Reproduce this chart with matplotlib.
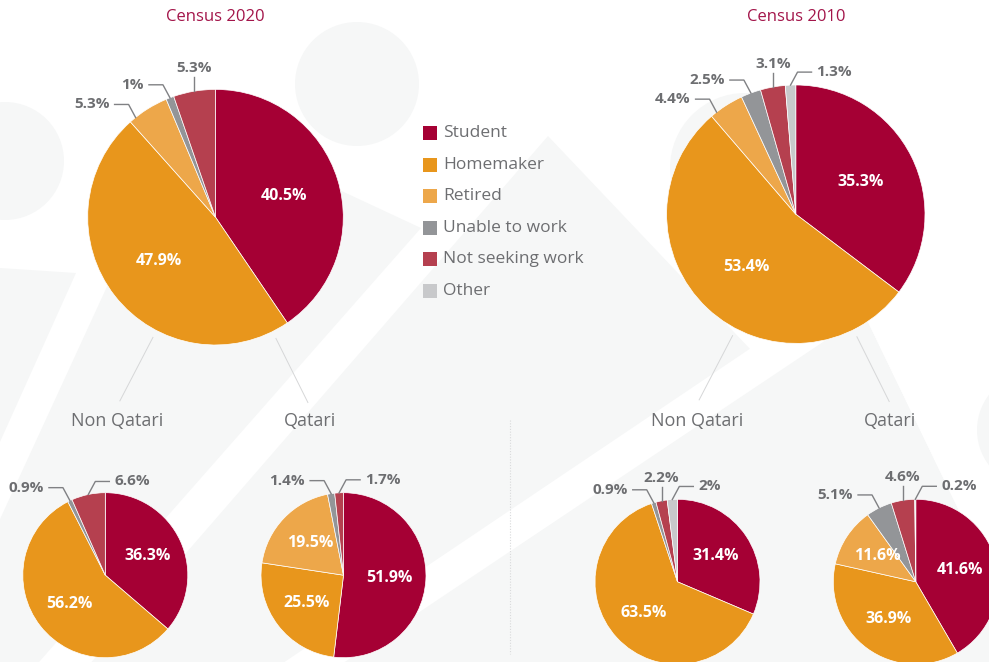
import numpy as np
import matplotlib.pyplot as plt
from matplotlib.patches import Polygon, Circle, Rectangle

plt.rcParams['font.family'] = ['Open Sans', 'DejaVu Sans']

# data
categories = ['Student', 'Homemaker', 'Retired', 'Unable to work', 'Not seeking work', 'Other']
census_2020_total = [40.5, 47.9, 5.3, 1.0, 5.3, 0.0]
census_2020_non_qatari = [36.3, 56.2, 0.0, 0.9, 6.6, 0.0]
census_2020_qatari = [51.9, 25.5, 19.5, 1.4, 1.7, 0.0]
census_2010_total = [35.3, 53.4, 4.4, 2.5, 3.1, 1.3]
census_2010_non_qatari = [31.4, 63.5, 0.0, 0.9, 2.2, 2.0]
census_2010_qatari = [41.6, 36.9, 11.6, 5.1, 4.6, 0.2]

colors = ['#a50034', '#e8961c', '#eda74a', '#939598', '#b5404f', '#c8c9cb']
GRAY_TXT = '#6d6e71'
BG = '#f6f7f7'
W, H = 989, 662

fig = plt.figure(figsize=(W / 100, H / 100), dpi=100)
ax = fig.add_axes([0, 0, 1, 1])
ax.set_facecolor('white')


# background decoration (pixel coords, y down)
def poly(pts, color):
    ax.add_patch(Polygon(pts, closed=True, facecolor=color, edgecolor='none', zorder=0))


def edge_x(x0, y0, slope, y):
    return x0 - slope * (y - y0)


poly([(0, 268), (76, 273), (edge_x(76, 273, 0.45, 662), 662), (0, 662)], BG)
poly([(110, 280), (200, 230), (333, 187), (421, 228), (edge_x(421, 228, 0.88, 662), 662),
      (edge_x(110, 280, 0.46, 662), 662)], BG)
poly([(548, 136), (edge_x(548, 136, 0.868, 662), 662), (1047, 662)], BG)
poly([(840, 320), (edge_x(823, 342, 1 / 0.669, 662), 662), (1032, 662), (867, 320)], BG)
# white stripes
poly([(edge_x(760, 342, 1 / 0.673, 0), 0), (edge_x(823, 342, 1 / 0.669, 0), 0),
      (edge_x(823, 342, 1 / 0.669, 662), 662), (edge_x(760, 342, 1 / 0.673, 662), 662)], 'white')
poly([(867, 320), (1032, 662), (989, 662), (989, 320)], 'white')
for c, r in [((5, 161), 59), ((357, 84), 62), ((745, 168), 75), ((1035, 430), 58)]:
    ax.add_patch(Circle(c, r, facecolor=BG, edgecolor='none', zorder=0.5))

# pies: (data, center, radius, outside label specs {index: (kind, frac)})
pies = [
    (census_2020_total, (215.5, 217.2), 127.8, {2: ('left', 0.16), 3: ('left', 0.5), 4: ('up', 0.5)}),
    (census_2010_total, (795.8, 214.2), 129.2,
     {2: ('left', 0.18), 3: ('left', 0.5), 4: ('up', 0.5), 5: ('right', 0.5)}),
    (census_2020_non_qatari, (105.3, 575.2), 82.5, {3: ('left', 0.5), 4: ('right', 0.5)}),
    (census_2020_qatari, (343.5, 575.2), 82.5, {3: ('left', 0.5), 4: ('right', 0.5)}),
    (census_2010_non_qatari, (677.5, 581.8), 82.5, {3: ('left', 0.5), 4: ('up', 0.5), 5: ('right', 0.5)}),
    (census_2010_qatari, (915.8, 581.8), 82.5, {3: ('left', 0.5), 4: ('up', 0.5), 5: ('right', 0.5)}),
]


def fmt(v):
    return f'{v:g}%'


for vals, center, radius, outside in pies:
    idx = [i for i, v in enumerate(vals) if v > 0]
    wedges, _ = ax.pie([vals[i] for i in idx], colors=[colors[i] for i in idx],
                       center=center, radius=radius, startangle=-90, counterclock=True,
                       wedgeprops=dict(edgecolor='white', linewidth=0.5))
    for w in wedges:
        w.set_zorder(2)
    cx, cy = center
    for i, w in zip(idx, wedges):
        t1, t2 = w.theta1, w.theta2
        if i in outside:
            kind, frac = outside[i]
            a = np.deg2rad(t1 + frac * (t2 - t1))
            ex, ey = cx + radius * np.cos(a), cy + radius * np.sin(a)
            if kind == 'up':
                ax.plot([ex, ex], [ey, ey - 14], color='#808184', lw=1.0, zorder=3)
                ax.text(ex, ey - 16, fmt(vals[i]), ha='center', va='bottom', fontsize=11,
                        fontweight='bold', color=GRAY_TXT, zorder=4)
            else:
                s = -1 if kind == 'left' else 1
                bx, by = ex + s * 7, ey - 13
                hx = bx + s * 14
                ax.plot([ex, bx, hx], [ey, by, by], color='#808184', lw=1.0, zorder=3)
                ax.text(hx + s * 5, by, fmt(vals[i]), ha='right' if s < 0 else 'left', va='center',
                        fontsize=11, fontweight='bold', color=GRAY_TXT, zorder=4)
        elif vals[i] >= 10:
            a = np.deg2rad((t1 + t2) / 2)
            ax.text(cx + 0.56 * radius * np.cos(a), cy + 0.56 * radius * np.sin(a), fmt(vals[i]),
                    ha='center', va='center', fontsize=11.5, fontweight='bold', color='white', zorder=4)

# titles and group labels
for (cx, cy), r, title in [((215.5, 217.2), 127.8, 'Census 2020'), ((795.8, 214.2), 129.2, 'Census 2010')]:
    ax.text(cx, 17, title, ha='center', va='center', fontsize=12, color='#a3154a')
    for ang, name, dx in [(242.5, 'Non Qatari', -98.5), (296.5, 'Qatari', 94.5)]:
        a = np.deg2rad(ang)
        ax.plot([cx + 1.06 * r * np.cos(a), cx + 1.62 * r * np.cos(a)],
                [cy - 1.06 * r * np.sin(a), cy - 1.62 * r * np.sin(a)],
                color='#d6d7d8', lw=0.7, zorder=1)
        ax.text(cx + dx, 421, name, ha='center', va='center', fontsize=13, color=GRAY_TXT)

# divider
ax.plot([510, 510], [420, 654], color='#d9dadb', lw=0.8, ls=(0, (1, 1.5)), zorder=1)

# legend
for k, (cat, col) in enumerate(zip(categories, colors)):
    y = 133 + k * 31.6
    ax.add_patch(Rectangle((423, y - 7), 14, 14, facecolor=col, edgecolor='none', zorder=3))
    ax.text(443, y, cat, ha='left', va='center', fontsize=12.5, color=GRAY_TXT, zorder=3)

ax.set_xlim(0, W)
ax.set_ylim(H, 0)
ax.set_aspect('equal')
ax.axis('off')
fig.savefig('out.png', dpi=100, facecolor='white')
